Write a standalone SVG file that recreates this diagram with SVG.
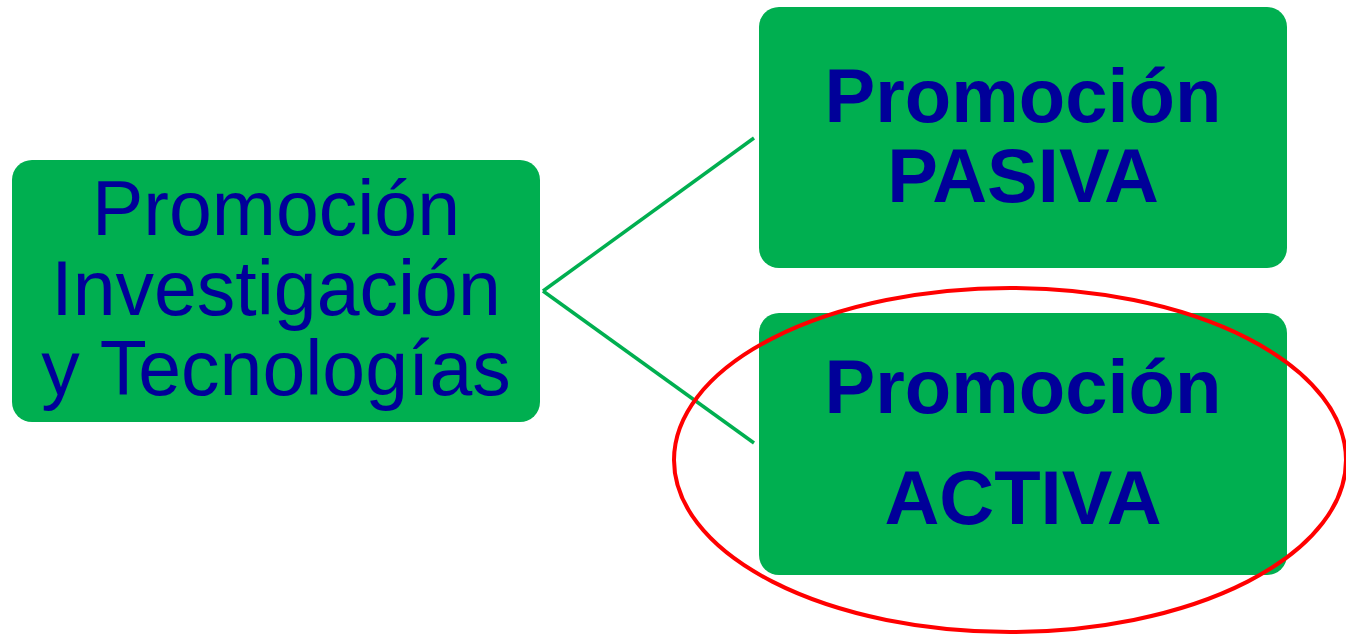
<svg xmlns="http://www.w3.org/2000/svg" width="1346" height="635" viewBox="0 0 1346 635">
<style>
.box{fill:#00AF50;}
.t{font-family:"Liberation Sans",Arial,sans-serif;fill:#000099;text-anchor:middle;font-size:77px;}
.b{font-weight:bold;font-size:76px;}
.conn{stroke:#00AF50;stroke-width:3.5;fill:none;}
</style>
<rect width="1346" height="635" fill="#ffffff"/>
<g id="connectors">
<line class="conn" x1="543" y1="291" x2="754" y2="138"/>
<line class="conn" x1="543" y1="291" x2="754" y2="443"/>
</g>
<g id="node-root">
<rect class="box" x="12" y="160" width="528" height="262" rx="20"/>
<text class="t" x="276" y="235">Promoción</text>
<text class="t" x="276" y="315">Investigación</text>
<text class="t" x="276" y="395">y Tecnologías</text>
</g>
<g id="node-pasiva">
<rect class="box" x="759" y="7" width="528" height="261" rx="20"/>
<text class="t b" x="1023" y="122">Promoción</text>
<text class="t b" x="1023" y="202">PASIVA</text>
</g>
<g id="node-activa">
<rect class="box" x="759" y="313" width="528" height="262" rx="20"/>
<text class="t b" x="1023" y="413">Promoción</text>
<text class="t b" x="1023" y="524">ACTIVA</text>
</g>
<g id="highlight">
<ellipse cx="1010" cy="460" rx="336" ry="172" fill="none" stroke="#FF0000" stroke-width="4"/>
</g>
</svg>
